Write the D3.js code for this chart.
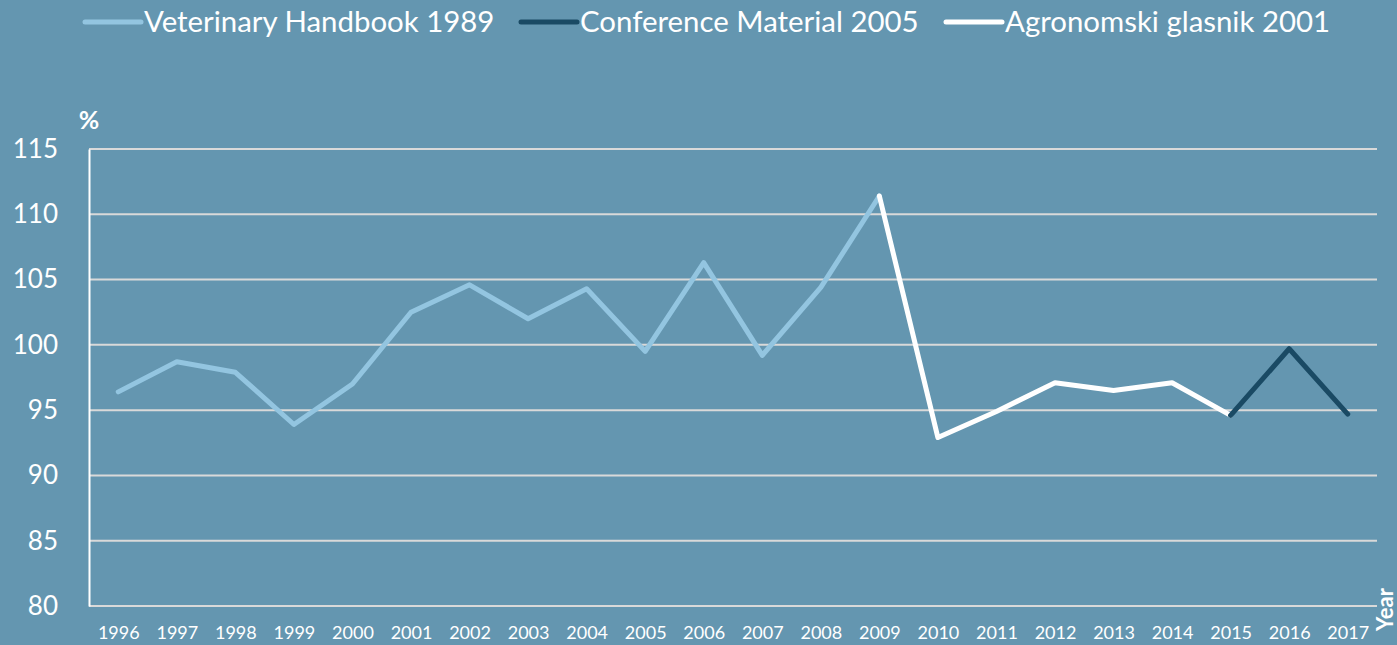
<!DOCTYPE html>
<html>
<head>
<meta charset="utf-8">
<script src="https://cdn.jsdelivr.net/npm/d3@7"></script>
<style>
  body { margin: 0; background: #6496b0; }
  svg { display: block; font-family: Lato, "Open Sans", sans-serif; }
</style>
</head>
<body>
<div id="chart"></div>
<script>
// Years on the x axis
const years = ["1996", "1997", "1998", "1999", "2000", "2001", "2002", "2003", "2004", "2005", "2006",
  "2007", "2008", "2009", "2010", "2011", "2012", "2013", "2014", "2015", "2016", "2017"];

// Each source covers its own stretch of years
const vetYears = years.slice(0, 14);
const vetValues = [96.4, 98.7, 97.9, 93.9, 97.0, 102.5, 104.6, 102.0, 104.3, 99.5, 106.3, 99.2, 104.4, 111.4];

const agroYears = years.slice(13, 20);
const agroValues = [111.4, 92.9, 94.9, 97.1, 96.5, 97.1, 94.6];

const confYears = years.slice(19, 22);
const confValues = [94.6, 99.7, 94.7];

const yTicks = [80, 85, 90, 95, 100, 105, 110, 115];

const seriesNames = ["Veterinary Handbook 1989", "Conference Material 2005", "Agronomski glasnik 2001"];
const seriesColors = ["#93c5e0", "#1a4a64", "#ffffff"];

const width = 1397;
const height = 645;
const margin = { top: 149, right: 20, bottom: 39, left: 89 };

const svg = d3.select("#chart").append("svg")
  .attr("width", width)
  .attr("height", height);

svg.append("rect")
  .attr("width", width)
  .attr("height", height)
  .attr("fill", "#6496b0");

const x = d3.scalePoint()
  .domain(years)
  .range([margin.left, width - margin.right])
  .padding(0.5);

const y = d3.scaleLinear()
  .domain([80, 115])
  .range([height - margin.bottom, margin.top]);

// Gridlines
svg.append("g")
  .selectAll("line")
  .data(yTicks)
  .join("line")
  .attr("x1", margin.left)
  .attr("x2", width - margin.right)
  .attr("y1", d => y(d))
  .attr("y2", d => y(d))
  .attr("stroke", "#d9d9d9")
  .attr("stroke-width", 2);

// Y axis
const yAxis = svg.append("g")
  .attr("transform", `translate(${margin.left},0)`)
  .call(d3.axisLeft(y).tickValues(yTicks).tickSize(0).tickPadding(31));
yAxis.select(".domain").attr("stroke", "#ffffff").attr("stroke-width", 2);
yAxis.selectAll("text")
  .attr("fill", "#ffffff")
  .attr("font-size", 26)
  .attr("font-family", "Lato, sans-serif");

// X axis labels
const xAxis = svg.append("g")
  .attr("transform", `translate(0,${height - margin.bottom})`)
  .call(d3.axisBottom(x).tickSize(0).tickPadding(20));
xAxis.select(".domain").remove();
xAxis.selectAll("text")
  .attr("fill", "#ffffff")
  .attr("font-size", 18)
  .attr("font-family", "Lato, sans-serif");

// Axis titles
svg.append("text")
  .attr("x", 89)
  .attr("y", 129)
  .attr("text-anchor", "middle")
  .attr("fill", "#ffffff")
  .attr("font-weight", "bold")
  .attr("font-size", 25)
  .text("%");

svg.append("text")
  .attr("transform", "translate(1393,631) rotate(-90)")
  .attr("fill", "#ffffff")
  .attr("font-weight", "bold")
  .attr("font-size", 22)
  .text("Year");

// Lines
const line = d3.line()
  .x(d => x(d[0]))
  .y(d => y(d[1]));

const series = [
  { data: d3.zip(vetYears, vetValues), color: seriesColors[0] },
  { data: d3.zip(agroYears, agroValues), color: seriesColors[2] },
  { data: d3.zip(confYears, confValues), color: seriesColors[1] }
];

svg.append("g")
  .selectAll("path")
  .data(series)
  .join("path")
  .attr("d", d => line(d.data))
  .attr("fill", "none")
  .attr("stroke", d => d.color)
  .attr("stroke-width", 5)
  .attr("stroke-linejoin", "round")
  .attr("stroke-linecap", "round");

// Legend
const legendX = [85, 521, 946];
const legend = svg.append("g")
  .selectAll("g")
  .data(seriesNames)
  .join("g")
  .attr("transform", (d, i) => `translate(${legendX[i]},22)`);

legend.append("line")
  .attr("x1", 0)
  .attr("x2", 56)
  .attr("stroke", (d, i) => seriesColors[i])
  .attr("stroke-width", 5)
  .attr("stroke-linecap", "round");

legend.append("text")
  .attr("x", 59)
  .attr("y", 10)
  .attr("fill", "#ffffff")
  .attr("font-size", 29.4)
  .text(d => d);
</script>
</body>
</html>
